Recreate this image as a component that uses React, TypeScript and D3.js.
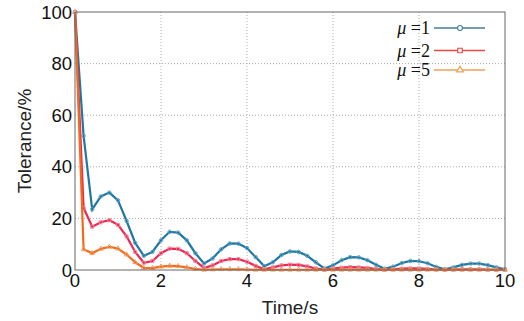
import { useEffect, useRef } from 'react';
import * as d3 from 'd3';

// sample times 0, 0.2, ... 10
const times = d3.range(0, 51).map(i => +(i * 0.2).toFixed(1));

const mu1 = [
  100, 52, 23.5, 28.5, 30, 27, 19, 10.5, 5.5, 7, 11.5, 14.8, 14.5, 11.5, 6.5, 2.5,
  4.5, 8, 10.3, 10.2, 8.5, 5, 1.5, 3, 5.8, 7.2, 7, 5.5, 3, 0.6, 1.8, 3.8, 5, 4.9,
  3.8, 2, 0.5, 1.3, 2.7, 3.5, 3.4, 2.6, 1.2, 0.3, 1, 2, 2.5, 2.5, 1.9, 1, 0.3
];
const mu2 = [
  100, 24, 16.8, 18.5, 19.3, 17.5, 13, 7, 2.8, 3.5, 6.5, 8.3, 8.2, 6.5, 3.5, 0.8,
  1.8, 3.5, 4.2, 4.2, 3.2, 1.6, 0.3, 1, 1.8, 2.1, 2, 1.4, 0.6, 0.1, 0.5, 0.9, 1.1, 1,
  0.8, 0.4, 0.1, 0.3, 0.5, 0.6, 0.6, 0.4, 0.2, 0.1, 0.2, 0.3, 0.3, 0.3, 0.2, 0.1, 0.1
];
const mu5 = [
  100, 8, 6.5, 8.2, 9, 8.3, 6, 3, 0.8, 0.7, 1.3, 1.6, 1.5, 1, 0.4, 0.1,
  0.2, 0.3, 0.3, 0.3, 0.2, 0.1, 0.1, 0.1, 0.1, 0.1, 0.1, 0.1, 0.1, 0.1, 0.1, 0.1, 0.1, 0.1,
  0.1, 0.1, 0.1, 0.1, 0.1, 0.1, 0.1, 0.1, 0.1, 0.1, 0.1, 0.1, 0.1, 0.1, 0.1, 0.1, 0.1
];

const seriesNames = ['1', '2', '5'];
const xTicks = [0, 2, 4, 6, 8, 10];
const yTicks = [0, 20, 40, 60, 80, 100];

export default function App() {
  const svgRef = useRef<SVGSVGElement>(null);

  useEffect(() => {
    if (!svgRef.current) return;
    const width = 524;
    const height = 321;
    const margin = { top: 12, right: 19, bottom: 51, left: 75 };

    const svg = d3.select(svgRef.current);
    svg.selectAll('*').remove();
    svg.attr('width', width).attr('height', height);

    const cw = width - margin.left - margin.right;
    const ch = height - margin.top - margin.bottom;

    const x = d3.scaleLinear().domain([0, 10]).range([0, cw]);
    const y = d3.scaleLinear().domain([0, 100]).range([ch, 0]);

    svg.append('rect').attr('width', width).attr('height', height).attr('fill', 'white');

    const g = svg.append('g').attr('transform', `translate(${margin.left},${margin.top})`);

    // grid
    xTicks.slice(1, -1).forEach(t => {
      g.append('line')
        .attr('x1', x(t)).attr('x2', x(t)).attr('y1', 0).attr('y2', ch)
        .attr('stroke', '#aaa').attr('stroke-dasharray', '1,2');
    });
    yTicks.slice(1, -1).forEach(t => {
      g.append('line')
        .attr('x1', 0).attr('x2', cw).attr('y1', y(t)).attr('y2', y(t))
        .attr('stroke', '#aaa').attr('stroke-dasharray', '1,2');
    });

    const series = [
      { data: mu1, color: '#1f78a4', marker: 'circle', mcolor: '#5b9fbf', lcolor: '#467e92' },
      { data: mu2, color: '#ea2a52', marker: 'square', mcolor: '#ee7f97', lcolor: '#e84848' },
      { data: mu5, color: '#f26b1d', marker: 'triangle', mcolor: '#f29a5f', lcolor: '#f0a25a' }
    ];

    const line = d3.line<number>()
      .x((_, i) => x(times[i]))
      .y(d => y(d));

    const plot = g.append('g');
    series.forEach(s => {
      plot.append('path')
        .datum(s.data)
        .attr('d', line)
        .attr('fill', 'none')
        .attr('stroke', s.color)
        .attr('stroke-width', 2.2);
      const sym = s.marker === 'circle' ? d3.symbolCircle : s.marker === 'square' ? d3.symbolSquare : d3.symbolTriangle;
      plot.selectAll(null)
        .data(s.data)
        .enter()
        .append('path')
        .attr('d', d3.symbol().type(sym).size(10)())
        .attr('transform', (d, i) => `translate(${x(times[i])},${y(d)})`)
        .attr('fill', 'none')
        .attr('stroke', s.mcolor)
        .attr('stroke-width', 0.9);
    });

    // frame
    g.append('rect')
      .attr('width', cw).attr('height', ch)
      .attr('fill', 'none').attr('stroke', '#666').attr('stroke-width', 1);

    // ticks
    xTicks.forEach(t => {
      g.append('text')
        .attr('x', x(t)).attr('y', ch + 17)
        .attr('text-anchor', 'middle')
        .attr('font-family', 'Liberation Sans, Arial, sans-serif')
        .attr('font-size', 18.5)
        .attr('fill', '#111')
        .text(t);
    });
    yTicks.forEach(t => {
      g.append('text')
        .attr('x', -3).attr('y', y(t))
        .attr('dy', '0.36em')
        .attr('text-anchor', 'end')
        .attr('font-family', 'Liberation Sans, Arial, sans-serif')
        .attr('font-size', 18.5)
        .attr('fill', '#111')
        .text(t);
    });

    svg.append('text')
      .attr('x', margin.left + cw / 2).attr('y', 314)
      .attr('text-anchor', 'middle')
      .attr('font-family', 'Liberation Sans, Arial, sans-serif')
      .attr('font-size', 19)
      .attr('fill', '#222')
      .text('Time/s');

    svg.append('text')
      .attr('transform', `translate(31,${margin.top + ch / 2}) rotate(-90)`)
      .attr('text-anchor', 'middle')
      .attr('font-family', 'Liberation Sans, Arial, sans-serif')
      .attr('font-size', 19)
      .attr('fill', '#222')
      .text('Tolerance/%');

    // legend
    const legendY = [28, 50.5, 70];
    series.forEach((s, i) => {
      const ly = legendY[i];
      const t = svg.append('text')
        .attr('x', 430).attr('y', ly + 6)
        .attr('text-anchor', 'end')
        .attr('font-family', 'Liberation Serif, Times New Roman, serif')
        .attr('font-size', 18)
        .attr('fill', '#111');
      t.append('tspan').attr('font-style', 'italic').text('μ');
      t.append('tspan').text(' =' + seriesNames[i]);
      svg.append('line')
        .attr('x1', 434).attr('x2', 485).attr('y1', ly).attr('y2', ly)
        .attr('stroke', s.lcolor).attr('stroke-width', 1.5);
      const sym = s.marker === 'circle' ? d3.symbolCircle : s.marker === 'square' ? d3.symbolSquare : d3.symbolTriangle;
      svg.append('path')
        .attr('d', d3.symbol().type(sym).size(20)())
        .attr('transform', `translate(460,${ly})`)
        .attr('fill', 'white')
        .attr('stroke', s.lcolor)
        .attr('stroke-width', 1.2);
    });
  }, []);

  return (
    <svg ref={svgRef} style={{ position: 'absolute', left: 0, top: 0 }}></svg>
  );
}
